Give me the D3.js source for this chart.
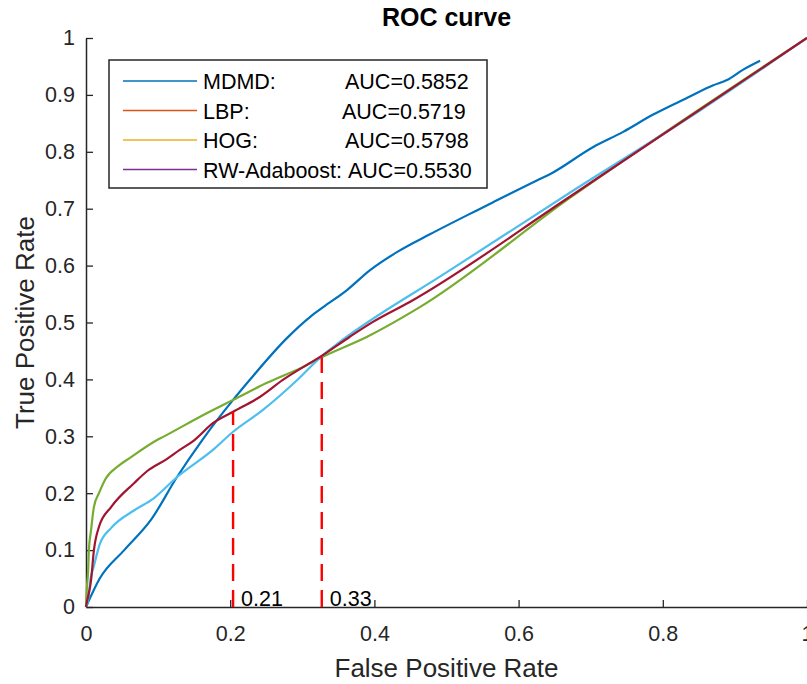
<!DOCTYPE html>
<html>
<head>
<meta charset="utf-8">
<script src="https://cdn.jsdelivr.net/npm/d3@7"></script>
<style>
  body { margin: 0; background: #fff; }
  svg { display: block; font-family: "Liberation Sans", Arial, sans-serif; }
</style>
</head>
<body>
<div id="chart"></div>
<script>
// ROC points [fpr, tpr]
const mdmd = [[0,0],[0.019,0.050],[0.053,0.100],[0.090,0.153],[0.126,0.228],[0.161,0.293],
  [0.204,0.364],[0.227,0.399],[0.279,0.473],[0.311,0.510],[0.329,0.527],[0.362,0.557],
  [0.394,0.592],[0.433,0.625],[0.477,0.655],[0.542,0.697],[0.564,0.711],[0.626,0.750],
  [0.644,0.761],[0.703,0.808],[0.745,0.835],[0.786,0.865],[0.834,0.895],[0.870,0.917],
  [0.889,0.926],[0.911,0.944],[0.935,0.960]];
const greenCurve = [[0,0],[0.001,0.030],[0.003,0.065],[0.004,0.100],[0.007,0.135],[0.011,0.176],
  [0.018,0.200],[0.027,0.225],[0.045,0.248],[0.061,0.262],[0.098,0.293],[0.107,0.299],
  [0.168,0.341],[0.204,0.364],[0.251,0.394],[0.301,0.422],[0.327,0.439],[0.390,0.475],
  [0.463,0.527],[0.671,0.719],[1,1]];
const lightBlueCurve = [[0,0],[0.003,0.012],[0.006,0.047],[0.011,0.072],[0.019,0.110],[0.035,0.139],
  [0.067,0.170],[0.093,0.190],[0.126,0.228],[0.176,0.276],[0.204,0.308],[0.245,0.346],
  [0.293,0.399],[0.327,0.441],[0.348,0.462],[0.500,0.588],[0.671,0.728],
  [0.852,0.873],[1,1]];
const redCurve = [[0,0],[0.001,0.007],[0.007,0.047],[0.011,0.100],[0.018,0.141],[0.035,0.176],
  [0.067,0.218],[0.085,0.239],[0.112,0.260],[0.130,0.276],[0.150,0.293],[0.176,0.323],
  [0.204,0.343],[0.241,0.369],[0.273,0.399],[0.329,0.443],[0.366,0.475],[0.398,0.501],
  [0.449,0.536],[0.671,0.721],[1,1]];

const curves = [
  {pts: mdmd, color: '#0072BD'},
  {pts: greenCurve, color: '#77AC30'},
  {pts: lightBlueCurve, color: '#4DBEEE'},
  {pts: redCurve, color: '#A2142F'}
];

// threshold markers
const markX = [0.204, 0.327];
const markTop = [0.343, 0.439];
const markLabels = ['0.21', '0.33'];

const legendNames = ['MDMD:', 'LBP:', 'HOG:', 'RW-Adaboost:'];
const legendAuc = ['AUC=0.5852', 'AUC=0.5719', 'AUC=0.5798', 'AUC=0.5530'];
const legendColors = ['#0072BD', '#D95319', '#EDB120', '#7E2F8E'];

const ticks = [0, 0.1, 0.2, 0.3, 0.4, 0.5, 0.6, 0.7, 0.8, 0.9, 1];
const xTicks = [0, 0.2, 0.4, 0.6, 0.8, 1];

const width = 807, height = 684;
const margin = {left: 86, top: 38, right: 0, bottom: 77};

const svg = d3.select('#chart').append('svg')
  .attr('width', width)
  .attr('height', height);

const x = d3.scaleLinear().domain([0, 1]).range([margin.left, width - margin.right]);
const y = d3.scaleLinear().domain([0, 1]).range([height - margin.bottom, margin.top]);

const axisColor = '#262626';
const font = '"Liberation Sans", Arial, sans-serif';

// x axis (ticks point inward)
const xAxis = svg.append('g')
  .attr('transform', `translate(0,${y(0)})`)
  .call(d3.axisBottom(x).tickValues(xTicks).tickSizeInner(-7).tickSizeOuter(0)
    .tickFormat(d3.format('~g')));
xAxis.select('.domain').attr('stroke', axisColor).attr('stroke-width', 1.5);
xAxis.selectAll('.tick line').attr('stroke', axisColor).attr('stroke-width', 1.3);
xAxis.selectAll('.tick text')
  .attr('y', 19).attr('dy', '0.71em')
  .attr('fill', axisColor)
  .style('font-size', '21.5px').style('font-family', font);

const yAxis = svg.append('g')
  .attr('transform', `translate(${x(0)},0)`)
  .call(d3.axisLeft(y).tickValues(ticks).tickSizeInner(-7).tickSizeOuter(0)
    .tickFormat(d3.format('~g')));
yAxis.select('.domain').attr('stroke', axisColor).attr('stroke-width', 1.5);
yAxis.selectAll('.tick line').attr('stroke', axisColor).attr('stroke-width', 1.3);
yAxis.selectAll('.tick text')
  .attr('x', -11)
  .attr('fill', axisColor)
  .style('font-size', '21.5px').style('font-family', font);

// curves
const line = d3.line().curve(d3.curveMonotoneX).x(d => x(d[0])).y(d => y(d[1]));
svg.append('g').selectAll('path')
  .data(curves).enter().append('path')
  .attr('d', d => line(d.pts))
  .attr('fill', 'none')
  .attr('stroke', d => d.color)
  .attr('stroke-width', 2.2)
  .attr('stroke-linejoin', 'round');

// dashed threshold lines
svg.append('g').selectAll('line')
  .data(markX).enter().append('line')
  .attr('x1', d => x(d)).attr('x2', d => x(d))
  .attr('y1', y(0)).attr('y2', (d, i) => y(markTop[i]))
  .attr('stroke', '#FF0000')
  .attr('stroke-width', 2.4)
  .attr('stroke-dasharray', '17,9');

svg.append('g').selectAll('text')
  .data(markLabels).enter().append('text')
  .attr('x', (d, i) => x(markX[i]) + 8)
  .attr('y', y(0) - 1)
  .attr('fill', '#000')
  .style('font-size', '21.5px')
  .text(d => d);

// legend
const lg = svg.append('g');
lg.append('rect')
  .attr('x', 109).attr('y', 60)
  .attr('width', 378).attr('height', 128)
  .attr('fill', '#fff')
  .attr('stroke', axisColor)
  .attr('stroke-width', 1.5);

const aucX = [345, 342, 345, 348];
const rows = lg.selectAll('g.row')
  .data(legendNames).enter().append('g')
  .attr('class', 'row')
  .attr('transform', (d, i) => `translate(0,${81 + i * 29.5})`);

rows.append('line')
  .attr('x1', 123).attr('x2', 197)
  .attr('stroke', (d, i) => legendColors[i])
  .attr('stroke-width', 1.6);

rows.append('text')
  .attr('x', 203).attr('y', 8)
  .style('font-size', '21.5px')
  .attr('fill', '#000')
  .each(function (d, i) {
    const t = d3.select(this);
    t.append('tspan').text(d);
    t.append('tspan').attr('x', aucX[i]).text(legendAuc[i]);
  });

// labels
svg.append('text')
  .attr('x', x(0.5)).attr('y', 26)
  .attr('text-anchor', 'middle')
  .style('font-size', '25px').style('font-weight', 'bold')
  .attr('fill', '#000')
  .text('ROC curve');

svg.append('text')
  .attr('x', x(0.5)).attr('y', 677)
  .attr('text-anchor', 'middle')
  .style('font-size', '26px')
  .attr('fill', axisColor)
  .text('False Positive Rate');

svg.append('text')
  .attr('transform', `translate(34,${y(0.5)}) rotate(-90)`)
  .attr('text-anchor', 'middle')
  .style('font-size', '26px')
  .attr('fill', axisColor)
  .text('True Positive Rate');
</script>
</body>
</html>
